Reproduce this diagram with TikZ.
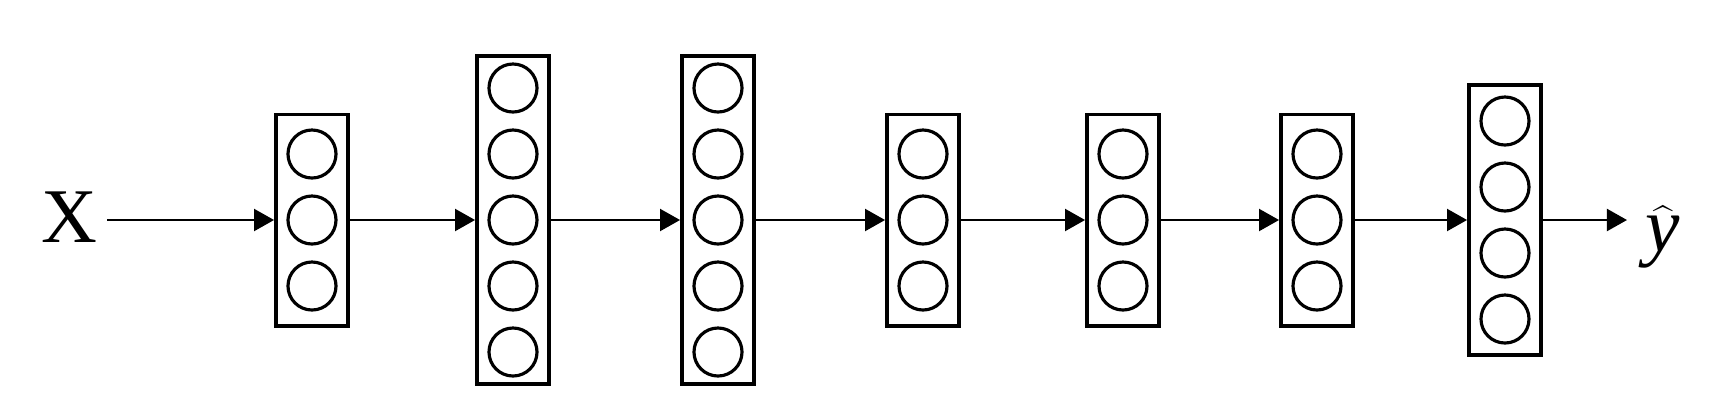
\documentclass[tikz,border=0pt]{standalone}
\usepackage{fontspec}
\setmainfont{Liberation Serif}
\usetikzlibrary{arrows.meta}
\tikzset{
  layer/.style={draw, line width=1.1pt, minimum width=0.72cm, inner sep=0},
  neuron/.style={draw, circle, line width=0.9pt, minimum size=0.48cm, inner sep=0},
  arr/.style={-{Triangle[length=0.2cm,width=0.22cm]}, line width=0.6pt},
  lbl/.style={inner sep=0, font=\fontsize{22}{26}\selectfont},
}
\begin{document}
\begin{tikzpicture}[x=0.01cm,y=0.01cm]
  \useasboundingbox (0,0) rectangle (1726,408);
  % input and output labels
  \node[lbl, anchor=base east] (X) at (98,166) {X};
  % layers: index / x position / number of neurons
  \foreach \i/\x/\n in {1/312/3,2/513/5,3/718/5,4/923/3,5/1123/3,6/1317/3,7/1505/4}{
    \pgfmathsetmacro\h{0.58*\n+0.37}
    \node[layer, minimum height=\h cm] (L\i) at (\x,188) {};
    \foreach \k in {1,...,\n}
      \node[neuron] (L\i-\k) at (\x,{188+66*((\n+1)/2-\k)}) {};
  }
  \node[lbl, anchor=west] (yhat) at (1645,171) {$\widehat{\mbox{\itshape y}}$};
  % connections
  \draw[arr, shorten <=0.09cm] (X.east |- L1.west) -- (L1.west);
  \foreach \i [evaluate=\i as \j using int(\i+1)] in {1,...,6}
    \draw[arr] (L\i.east) -- (L\j.west);
  \draw[arr, shorten >=0.18cm] (L7.east) -- (L7.east -| yhat.west);
\end{tikzpicture}
\end{document}
